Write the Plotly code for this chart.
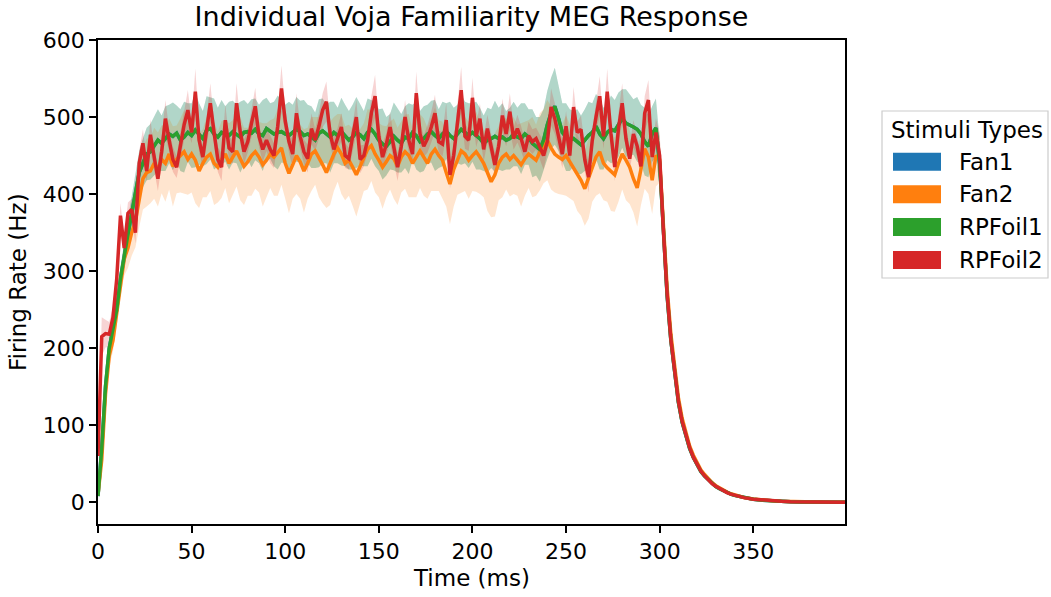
import plotly.graph_objects as go

# ---------------- data ----------------
time_ms = list(range(0, 342, 2)) + [345, 350, 355, 360, 365, 370, 375, 380, 385, 390, 395, 399]

rpfoil1_plateau = [
    8, 70, 150, 200, 225, 250, 290, 322, 348, 375,
    400, 428, 440, 452, 455, 462, 470, 466, 472, 478,
    475, 479, 470, 474, 480, 476, 483, 478, 472, 483,
    485, 478, 474, 480, 478, 476, 481, 478, 474, 480,
    481, 479, 484, 478, 476, 485, 482, 478, 480, 481,
    478, 476, 480, 484, 481, 476, 478, 474, 470, 479,
    482, 478, 474, 480, 476, 481, 476, 470, 474, 480,
    477, 472, 480, 484, 478, 470, 465, 462, 468, 475,
    470, 466, 474, 472, 480, 476, 468, 472, 478, 481,
    476, 472, 478, 482, 476, 472, 478, 484, 480, 476,
    480, 476, 472, 466, 470, 472, 475, 472, 474, 470,
    472, 478, 474, 472, 478, 474, 466, 462, 458, 470,
    490, 505, 514, 498, 480, 474, 470, 472, 468, 464,
    470, 476, 480, 488, 478, 472, 480, 484, 482, 490,
    498, 492, 490, 487, 484, 478, 468, 462, 478, 486,
]
rpfoil1_decay = [440, 350, 268, 210, 165, 130, 104, 85, 70, 58, 48, 40, 34, 29, 24, 20.5,
                 17.5, 15, 12.5, 10.5, 9,
                 6, 4, 2.7, 1.8, 1.2, 0.8, 0.5, 0.35, 0.25, 0.15, 0.1, 0.05]

fan2_plateau = [
    10, 55, 140, 190, 210, 245, 285, 316, 330, 350,
    365, 395, 420, 428, 430, 440, 432, 445, 440, 452,
    436, 445, 450, 455, 445, 452, 444, 430, 440, 448,
    452, 440, 435, 445, 452, 440, 448, 456, 446, 436,
    442, 450, 455, 448, 438, 444, 452, 448, 454, 460,
    440, 427, 438, 450, 442, 430, 440, 452, 456, 448,
    438, 428, 440, 452, 460, 452, 440, 444, 435, 425,
    436, 448, 458, 463, 452, 444, 435, 442, 450, 446,
    436, 448, 455, 450, 440, 448, 456, 448, 440, 452,
    458, 450, 444, 428, 413, 432, 445, 456, 452, 444,
    450, 455, 448, 440, 428, 416, 425, 440, 448, 452,
    445, 450, 444, 438, 446, 452, 448, 444, 455, 462,
    470, 460, 452, 448, 445, 450, 442, 435, 428, 418,
    407, 420, 436, 448, 455, 440, 434, 430, 425, 440,
    452, 444, 435, 420, 408, 432, 459, 448, 418, 450,
]
fan2_decay = [445, 360, 278, 218, 172, 136, 109, 89, 73, 61, 51, 42, 36, 30, 25.5, 21.5,
              18.5, 15.8, 13.2, 11, 9.5,
              6.3, 4.2, 2.8, 1.9, 1.3, 0.85, 0.55, 0.37, 0.26, 0.16, 0.1, 0.05]

rpfoil2_plateau = [
    60, 215, 219, 218, 240, 290, 372, 330, 375, 380,
    350, 440, 466, 430, 477, 445, 420, 455, 498, 470,
    445, 435, 462, 490, 509, 480, 533, 470, 448, 480,
    518, 480, 445, 435, 496, 460, 455, 518, 480, 455,
    468, 492, 514, 475, 458, 470, 458, 450, 488, 537,
    495, 468, 452, 505, 475, 455, 446, 485, 470, 488,
    509, 520, 478, 458, 472, 487, 450, 446, 475, 500,
    445, 450, 470, 505, 527, 475, 448, 465, 487, 458,
    435, 462, 500, 470, 452, 531, 478, 462, 472, 487,
    505, 468, 465, 496, 425, 450, 498, 535, 475, 470,
    525, 475, 498, 458, 485, 462, 438, 462, 502, 478,
    507, 472, 485, 472, 455, 476, 468, 472, 460, 450,
    468, 513, 498, 472, 452, 488, 450, 513, 480, 484,
    445, 422, 470, 500, 527, 475, 533, 478, 435, 485,
    518, 472, 446, 478, 462, 436, 505, 522, 448, 480,
]
rpfoil2_decay = [450, 352, 270, 211, 166, 131, 105, 86, 71, 58.5, 48.5, 40.5, 34.3, 29.2, 24.3,
                 20.8, 17.7, 15.2, 12.6, 10.6, 9.1,
                 6, 4, 2.7, 1.8, 1.2, 0.8, 0.5, 0.35, 0.25, 0.15, 0.1, 0.05]

# half-width of the confidence band
rpfoil1_spread_plateau = [
    3, 10, 14, 14, 14, 15, 16, 18, 20, 22,
    25, 28, 32, 34, 36, 38, 40, 36, 42, 38,
    44, 36, 40, 46, 38, 42, 48, 40, 36, 44,
    40, 46, 38, 42, 36, 44, 40, 38, 46, 42,
    36, 44, 40, 38, 46, 40, 36, 42, 48, 40,
    38, 44, 36, 42, 40, 46, 38, 40, 36, 44,
    42, 38, 46, 40, 36, 44, 40, 38, 42, 46,
    40, 36, 44, 38, 42, 40, 46, 38, 36, 44,
    42, 38, 40, 46, 36, 44, 40, 42, 38, 40,
    46, 38, 42, 36, 44, 40, 38, 46, 40, 42,
    38, 44, 40, 36, 42, 38, 46, 40, 44, 38,
    40, 42, 38, 46, 40, 36, 44, 38, 42, 40,
    44, 46, 50, 42, 38, 44, 40, 36, 42, 38,
    40, 44, 38, 42, 46, 40, 36, 44, 40, 42,
    38, 44, 40, 36, 42, 38, 44, 40, 36, 38,
]
fan2_spread_plateau = [
    3, 8, 12, 14, 14, 16, 18, 22, 26, 30,
    34, 38, 40, 44, 42, 46, 48, 44, 50, 46,
    52, 44, 48, 54, 46, 50, 56, 48, 44, 52,
    48, 54, 46, 50, 44, 52, 48, 46, 54, 50,
    44, 52, 48, 46, 54, 48, 44, 50, 56, 48,
    46, 52, 44, 50, 48, 54, 46, 48, 44, 52,
    50, 46, 54, 48, 44, 52, 48, 46, 50, 54,
    48, 44, 52, 46, 50, 48, 54, 46, 44, 52,
    50, 46, 48, 54, 44, 52, 48, 50, 46, 48,
    54, 46, 50, 44, 52, 48, 46, 54, 48, 50,
    46, 52, 48, 44, 50, 46, 54, 48, 52, 46,
    48, 50, 46, 54, 48, 44, 52, 46, 50, 48,
    52, 54, 50, 48, 46, 52, 48, 44, 50, 46,
    48, 52, 46, 50, 54, 48, 44, 52, 48, 50,
    46, 52, 48, 44, 50, 46, 52, 48, 44, 40,
]
rpfoil2_spread_plateau = [
    5, 25, 18, 16, 14, 14, 16, 16, 14, 14,
    14, 16, 18, 14, 20, 14, 16, 18, 24, 14,
    16, 14, 18, 20, 26, 14, 30, 16, 14, 20,
    26, 14, 16, 18, 20, 14, 16, 26, 14, 16,
    14, 18, 24, 14, 16, 14, 18, 16, 20, 30,
    16, 14, 18, 26, 14, 16, 18, 20, 14, 18,
    22, 26, 14, 16, 14, 18, 16, 14, 18, 22,
    18, 14, 16, 22, 28, 16, 18, 14, 20, 16,
    18, 14, 22, 16, 14, 28, 16, 14, 18, 20,
    24, 14, 16, 22, 18, 14, 20, 30, 16, 14,
    26, 14, 20, 16, 18, 14, 16, 14, 22, 16,
    24, 14, 18, 16, 14, 18, 16, 14, 16, 18,
    14, 24, 20, 16, 18, 20, 16, 26, 14, 18,
    16, 20, 14, 18, 26, 16, 30, 14, 18, 20,
    26, 14, 16, 18, 14, 18, 22, 26, 14, 18,
]
decay_spread = [30, 22, 16, 12, 9, 7, 5, 4, 3, 2.5, 2, 1.6, 1.3, 1, 0.8, 0.6, 0.5, 0.4, 0.3,
                0.25, 0.2,
                0.1, 0.1, 0.05, 0.05, 0, 0, 0, 0, 0, 0, 0, 0]

series_names = ["Fan1", "Fan2", "RPFoil1", "RPFoil2"]
series_means = {
    "Fan1": rpfoil1_plateau + rpfoil1_decay,   # hidden exactly under RPFoil1
    "Fan2": fan2_plateau + fan2_decay,
    "RPFoil1": rpfoil1_plateau + rpfoil1_decay,
    "RPFoil2": rpfoil2_plateau + rpfoil2_decay,
}
series_spread = {
    "Fan1": rpfoil1_spread_plateau + decay_spread,
    "Fan2": fan2_spread_plateau + decay_spread,
    "RPFoil1": rpfoil1_spread_plateau + decay_spread,
    "RPFoil2": rpfoil2_spread_plateau + decay_spread,
}
series_colors = {"Fan1": "#1f77b4", "Fan2": "#ff7f0e", "RPFoil1": "#2ca02c", "RPFoil2": "#d62728"}
band_colors = {"Fan1": "rgba(31,119,180,0.2)", "Fan2": "rgba(255,127,14,0.2)",
               "RPFoil1": "rgba(44,160,44,0.2)", "RPFoil2": "rgba(214,39,40,0.2)"}

# ---------------- figure ----------------
W, H = 1051, 597
L, R, T, B = 98, 206, 40, 73
plot_w = W - L - R
plot_h = H - T - B


def px_x(px):
    return (px - L) / plot_w


def px_y(py):
    return (H - B - py) / plot_h


fig = go.Figure()

for name in series_names:
    m = series_means[name]
    s = series_spread[name]
    upper = [a + b for a, b in zip(m, s)]
    lower = [a - b for a, b in zip(m, s)]
    fig.add_trace(go.Scatter(
        x=time_ms + time_ms[::-1], y=upper + lower[::-1],
        fill="toself", fillcolor=band_colors[name], line=dict(width=0),
        mode="lines", hoverinfo="skip", showlegend=False))

for name in series_names:
    fig.add_trace(go.Scatter(
        x=time_ms, y=series_means[name], mode="lines", name=name,
        line=dict(color=series_colors[name], width=3.5), showlegend=False))

font_family = "DejaVu Sans"
TICK_SIZE = 22
LABEL_SIZE = 23
axis_common = dict(showline=True, mirror=True, linecolor="black", linewidth=1.6,
                   ticks="outside", ticklen=7, tickwidth=1.6, tickcolor="black",
                   showgrid=False, zeroline=False,
                   tickfont=dict(family=font_family, size=TICK_SIZE, color="black"))

fig.update_layout(
    width=W, height=H,
    margin=dict(l=L, r=R, t=T, b=B),
    paper_bgcolor="white", plot_bgcolor="white",
    showlegend=False,
    title=dict(text="Individual Voja Familiarity MEG Response",
               x=(L + plot_w / 2) / W, xanchor="center",
               y=1 - 17 / H, yanchor="middle", yref="container",
               font=dict(family=font_family, size=27, color="black")),
    xaxis=dict(range=[0, 399], tickvals=[0, 50, 100, 150, 200, 250, 300, 350], **axis_common),
    yaxis=dict(range=[-28.2, 600], tickvals=[0, 100, 200, 300, 400, 500, 600], **axis_common),
)

annotations = [
    dict(text="Time (ms)", x=0.5, y=px_y(578), xref="paper", yref="paper",
         showarrow=False, xanchor="center", yanchor="middle",
         font=dict(family=font_family, size=LABEL_SIZE, color="black")),
    dict(text="Firing Rate (Hz)", x=px_x(18), y=px_y(282), xref="paper", yref="paper",
         showarrow=False, xanchor="center", yanchor="middle", textangle=-90,
         font=dict(family=font_family, size=LABEL_SIZE, color="black")),
    dict(text="Stimuli Types", x=px_x(967), y=px_y(130), xref="paper", yref="paper",
         showarrow=False, xanchor="center", yanchor="middle",
         font=dict(family=font_family, size=LABEL_SIZE, color="black")),
]

shapes = [dict(type="rect", xref="paper", yref="paper",
               x0=px_x(882), x1=px_x(1048), y0=px_y(278), y1=px_y(111),
               line=dict(color="#cccccc", width=1.2), fillcolor="rgba(255,255,255,0.8)",
               layer="above")]

row_y = [161.7, 194.3, 227, 260]
for name, ry in zip(series_names, row_y):
    shapes.append(dict(type="rect", xref="paper", yref="paper",
                       x0=px_x(893), x1=px_x(941), y0=px_y(ry + 9), y1=px_y(ry - 9),
                       line=dict(width=0), fillcolor=series_colors[name], layer="above"))
    annotations.append(dict(text=name, x=px_x(957), y=px_y(ry), xref="paper", yref="paper",
                            showarrow=False, xanchor="left", yanchor="middle",
                            font=dict(family=font_family, size=LABEL_SIZE, color="black")))

fig.update_layout(annotations=annotations, shapes=shapes)

fig.write_html("out.html")
